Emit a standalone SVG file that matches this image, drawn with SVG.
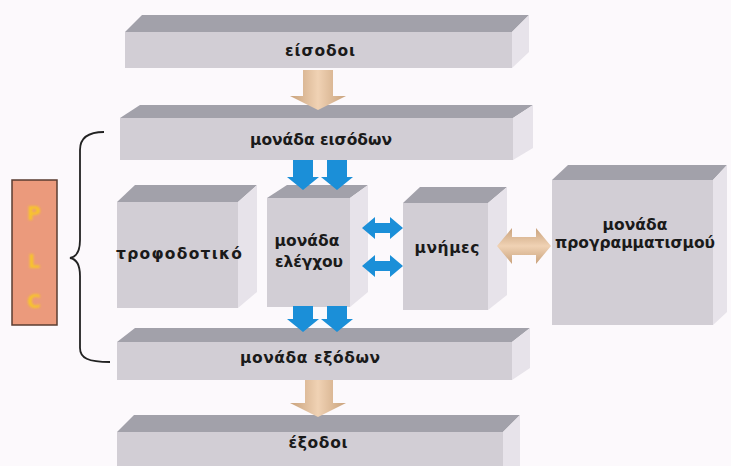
<svg xmlns="http://www.w3.org/2000/svg" width="731" height="466" viewBox="0 0 731 466">
  <defs>
    <linearGradient id="tan" x1="0" y1="0" x2="1" y2="0">
      <stop offset="0" stop-color="#c9a27c"/>
      <stop offset="0.5" stop-color="#f0d2b4"/>
      <stop offset="1" stop-color="#c9a27c"/>
    </linearGradient>
    <linearGradient id="tanH" x1="0" y1="0" x2="0" y2="1">
      <stop offset="0" stop-color="#c9a27c"/>
      <stop offset="0.5" stop-color="#f0d2b4"/>
      <stop offset="1" stop-color="#c9a27c"/>
    </linearGradient>
    <filter id="soft" x="-30%" y="-30%" width="160%" height="160%">
      <feGaussianBlur stdDeviation="0.9"/>
    </filter>
  </defs>
  <style>
    .front { fill: #d2ced5; }
    .top { fill: #a2a1aa; }
    .side { fill: #e7e3ea; }
    .lbl { font-family: "DejaVu Sans", "Liberation Sans", sans-serif; font-weight: bold; font-size: 15.5px; fill: #1a1a1a; text-anchor: middle; }
    .blue { fill: #1b8fd8; }
    .plc { font-family: "DejaVu Sans", sans-serif; font-weight: bold; font-size: 19px; fill: #f8c52a; text-anchor: middle; }
  </style>

  <rect width="731" height="466" fill="#fcf9fc"/>

  <!-- PLC block and brace -->
  <g id="plc">
    <rect x="12" y="180" width="45" height="145" fill="#eb9a7c" stroke="#5a3c30" stroke-width="1.5"/>
    <g filter="url(#soft)">
      <text class="plc" x="34" y="220">P</text>
      <text class="plc" x="34" y="268">L</text>
      <text class="plc" x="34" y="308">C</text>
    </g>
  </g>
  <g id="brace">
    <path d="M104,132 C88,132 80,138 80,150 L80,240 C80,252 76,257 70,258 C76,259 80,264 80,276 L80,348 C80,358 88,362 110,362" fill="none" stroke="#222" stroke-width="1.8"/>
  </g>

  <!-- inputs -->
  <g id="inputs">
    <polygon class="top" points="125,32 142,15 529,15 512,32"/>
    <polygon class="side" points="512,32 529,15 529,52 512,68"/>
    <rect class="front" x="125" y="32" width="387" height="36"/>
    <text class="lbl" x="320" y="56" textLength="70">είσοδοι</text>
  </g>

  <!-- input module -->
  <g id="input-module">
    <polygon class="top" points="120,118 140,105 533,105 513,118"/>
    <polygon class="side" points="513,118 533,105 533,148 513,160"/>
    <rect class="front" x="120" y="118" width="393" height="42"/>
    <text class="lbl" x="321" y="145" textLength="142">μονάδα εισόδων</text>
  </g>

  <!-- power supply -->
  <g id="power-supply">
    <polygon class="top" points="117,202 135,185 257,185 238,202"/>
    <polygon class="side" points="238,202 257,185 257,292 238,308"/>
    <rect class="front" x="117" y="202" width="121" height="106"/>
    <text class="lbl" x="179" y="259" textLength="126">τροφοδοτικό</text>
  </g>

  <!-- control unit -->
  <g id="control-unit">
    <polygon class="top" points="267,198 287,185 368,185 350,198"/>
    <polygon class="side" points="350,198 368,185 368,292 350,307"/>
    <rect class="front" x="267" y="198" width="83" height="109"/>
    <text class="lbl" x="307" y="246" textLength="65">μονάδα</text>
    <text class="lbl" x="309" y="267" textLength="68">ελέγχου</text>
  </g>

  <!-- memories -->
  <g id="memories">
    <polygon class="top" points="403,203 420,187 507,187 488,203"/>
    <polygon class="side" points="488,203 507,187 507,295 488,310"/>
    <rect class="front" x="403" y="203" width="85" height="107"/>
    <text class="lbl" x="447" y="253" textLength="65">μνήμες</text>
  </g>

  <!-- programming unit -->
  <g id="programming-unit">
    <polygon class="top" points="552,180 568,165 727,165 713,180"/>
    <polygon class="side" points="713,180 727,165 727,312 713,325"/>
    <rect class="front" x="552" y="180" width="161" height="145"/>
    <text class="lbl" x="635" y="230" textLength="65">μονάδα</text>
    <text class="lbl" x="635" y="248" textLength="160">προγραμματισμού</text>
  </g>

  <!-- output module -->
  <g id="output-module">
    <polygon class="top" points="117,342 135,328 530,328 512,342"/>
    <polygon class="side" points="512,342 530,328 530,368 512,380"/>
    <rect class="front" x="117" y="342" width="395" height="38"/>
    <text class="lbl" x="310" y="363" textLength="140">μονάδα εξόδων</text>
  </g>

  <!-- outputs -->
  <g id="outputs">
    <polygon class="top" points="117,432 134,415 520,415 503,432"/>
    <polygon class="side" points="503,432 520,415 520,466 503,466"/>
    <rect class="front" x="117" y="432" width="386" height="34"/>
    <text class="lbl" x="318" y="448" textLength="59">έξοδοι</text>
  </g>

  <!-- connectors -->
  <g id="connectors">
    <!-- inputs to input module -->
    <polygon fill="url(#tan)" points="303,70 333,70 333,96 346,96 318,110 290,96 303,96"/>
    <!-- input module to control unit -->
    <polygon class="blue" points="293,160 313,160 313,177 319,177 303,190 287,177 293,177"/>
    <polygon class="blue" points="327,160 347,160 347,177 353,177 337,190 321,177 327,177"/>
    <!-- control unit to output module -->
    <polygon class="blue" points="293,306 313,306 313,319 319,319 303,332 287,319 293,319"/>
    <polygon class="blue" points="327,306 347,306 347,319 353,319 337,332 321,319 327,319"/>
    <!-- control unit <-> memories -->
    <polygon class="blue" points="362,228 375,217 375,223 390,223 390,217 403,228 390,239 390,233 375,233 375,239"/>
    <polygon class="blue" points="362,266 375,255 375,261 390,261 390,255 403,266 390,277 390,271 375,271 375,277"/>
    <!-- memories <-> programming unit -->
    <polygon fill="url(#tanH)" points="497,246 512,228 512,237 536,237 536,228 551,246 536,264 536,255 512,255 512,264"/>
    <!-- output module to outputs -->
    <polygon fill="url(#tan)" points="305,380 333,380 333,403 346,403 318,417 290,403 305,403"/>
  </g>
</svg>
